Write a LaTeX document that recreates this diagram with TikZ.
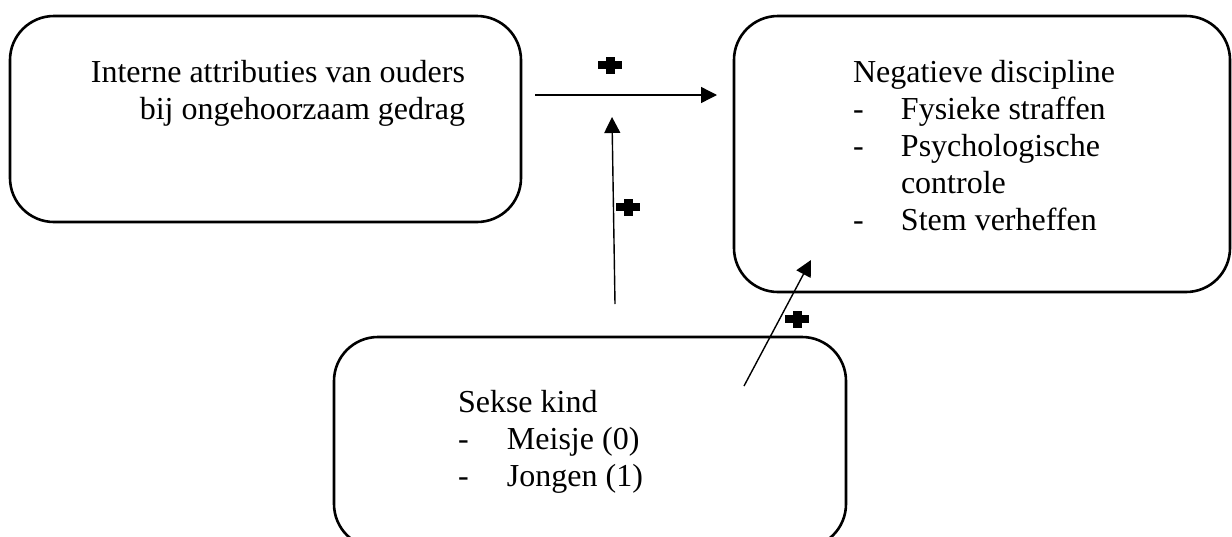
\documentclass[tikz,border=0pt]{standalone}
\usepackage{fontspec}
\setmainfont{Liberation Serif}
\usetikzlibrary{arrows.meta}
\tikzset{
  x=0.5pt, y=-0.5pt,
  box/.style={draw=black, line width=1.3pt, rounded corners=22pt},
  txt/.style={inner sep=0pt, outer sep=0pt, font=\fontsize{16}{18.5}\selectfont},
  conn/.style={draw=black, line width=0.7pt, -{Triangle[length=8pt,width=8pt]}},
  pluscross/.pic={\fill[black] (-12,-4) rectangle (12,4); \fill[black] (-4.5,-8.5) rectangle (4.5,8.5);}
}
\begin{document}
\begin{tikzpicture}
\useasboundingbox (0,0) rectangle (1232,536);
\clip (0,0) rectangle (1232,536);
% boxes
\draw[box] (10,16) rectangle (521,222);
\draw[box] (734,16) rectangle (1230,292);
\draw[box] (334,337) rectangle (846,548);
% texts
\node[txt, anchor=base east] (tA) at (465,82) {\begin{tabular}[t]{@{}r@{}}Interne attributies van ouders\\bij ongehoorzaam gedrag\end{tabular}};
\node[txt, anchor=base west] (tB) at (853,82) {\begin{tabular}[t]{@{}p{24pt}@{}l@{}}\multicolumn{2}{@{}l@{}}{Negatieve discipline}\\
-&Fysieke straffen\\
-&Psychologische\\
&controle\\
-&Stem verheffen\end{tabular}};
\node[txt, anchor=base west] (tC) at (458,412) {\begin{tabular}[t]{@{}p{24.5pt}@{}l@{}}\multicolumn{2}{@{}l@{}}{Sekse kind}\\
-&Meisje (0)\\
-&Jongen (1)\end{tabular}};
% connector endpoints
\coordinate (h1) at (535,95);
\coordinate (h2) at (717,95);
\coordinate (v1) at (615,304);
\coordinate (v2) at (612,117);
\coordinate (d1) at (744,386);
\coordinate (d2) at (811,260);
\draw[conn] (h1) -- (h2);
\draw[conn] (v1) -- (v2);
\draw[conn] (d1) -- (d2);
% plus signs
\pic (p1) at (610,65) {pluscross};
\pic (p2) at (628,207) {pluscross};
\pic (p3) at (797,319) {pluscross};
\end{tikzpicture}
\end{document}
